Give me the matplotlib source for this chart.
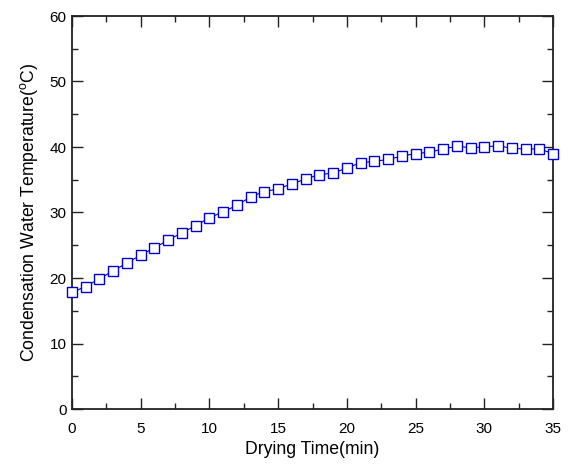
import numpy as np
import matplotlib
matplotlib.use('Agg')
import matplotlib.pyplot as plt
from matplotlib.ticker import MultipleLocator

plt.rcParams['font.family'] = ['Liberation Sans', 'DejaVu Sans']
plt.rcParams['mathtext.fontset'] = 'custom'
plt.rcParams['mathtext.rm'] = 'Liberation Sans'

# Datos
time_min = list(range(0, 36))
water_temp = [17.8, 18.7, 19.9, 21.1, 22.3, 23.5, 24.6, 25.8, 26.9, 28.0,
              29.2, 30.1, 31.1, 32.4, 33.2, 33.6, 34.4, 35.1, 35.8, 36.0,
              36.8, 37.6, 37.8, 38.1, 38.6, 39.0, 39.2, 39.7, 40.1, 39.9,
              40.0, 40.2, 39.8, 39.7, 39.7, 39.0]

fig = plt.figure(figsize=(5.7, 4.69), dpi=100)
ax = fig.add_axes([72/570, 1 - 409/469, (553-72)/570, (409-16)/469])

ax.plot(time_min, water_temp, color='#0000cc', linewidth=0.8, marker='s',
        markersize=7.2, markerfacecolor='white', markeredgecolor='#0000cc',
        markeredgewidth=1.0, clip_on=False, zorder=3)

ax.set_xlim(0, 35)
ax.set_ylim(0, 60)
ax.xaxis.set_major_locator(MultipleLocator(5))
ax.xaxis.set_minor_locator(MultipleLocator(2.5))
ax.yaxis.set_major_locator(MultipleLocator(10))
ax.yaxis.set_minor_locator(MultipleLocator(5))
ax.tick_params(which='both', direction='in', top=True, right=True,
               labelsize=11, width=1.0, color='#222222')
ax.tick_params(which='major', length=8)
ax.tick_params(which='minor', length=4)
ax.tick_params(axis='x', which='major', pad=9)
ax.tick_params(axis='y', which='major', pad=4)
for s in ax.spines.values():
    s.set_linewidth(1.3)
    s.set_color('#222222')

ax.set_xlabel('Drying Time(min)', fontsize=12.7, labelpad=4)
ax.set_ylabel(r'Condensation Water Temperature($^{\rm o}$C)', fontsize=12.7, labelpad=7)

plt.savefig('out.png', dpi=100)
